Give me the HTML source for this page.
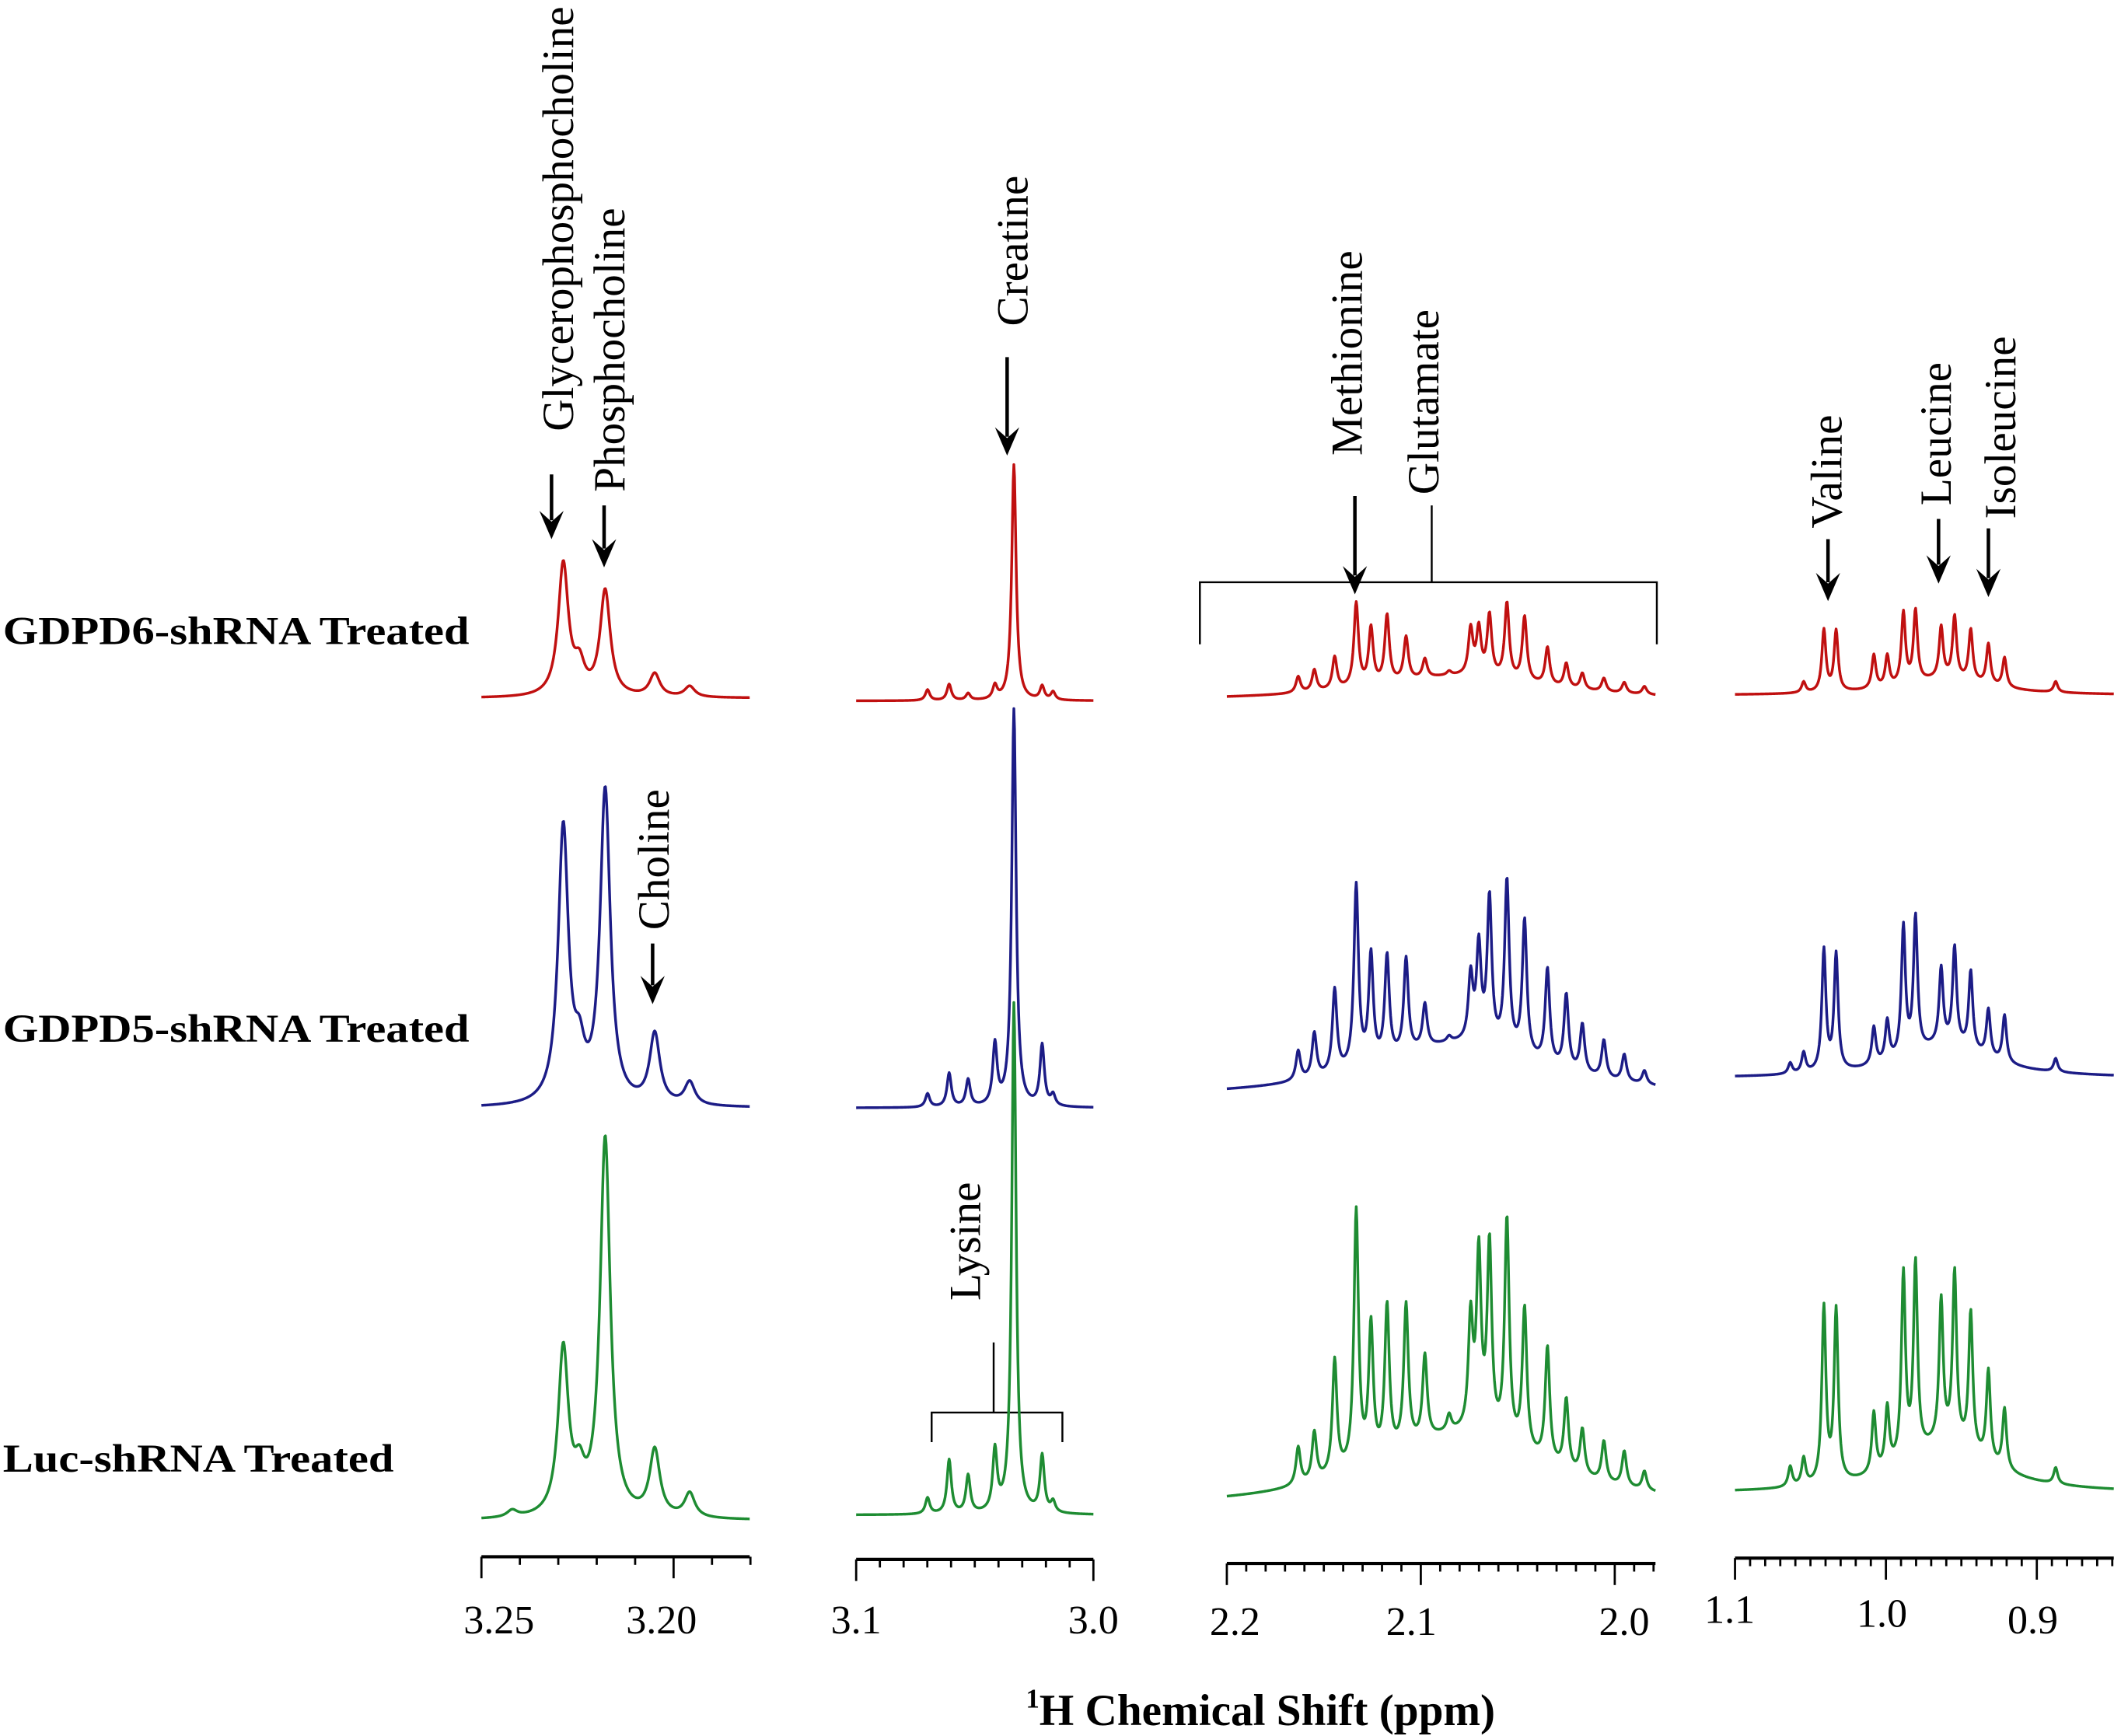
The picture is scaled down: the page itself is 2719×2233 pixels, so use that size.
<!DOCTYPE html>
<html><head><meta charset="utf-8">
<style>
html,body{margin:0;padding:0;background:#fff;}
svg{display:block;}
text{font-family:"Liberation Serif","Times New Roman",serif;fill:#000;}
</style></head>
<body>
<svg id="chart" xmlns="http://www.w3.org/2000/svg" width="2719" height="2233" viewBox="0 0 1568 1288">
  <text x="2" y="478" font-size="29" font-weight="bold" textLength="346" lengthAdjust="spacingAndGlyphs">GDPD6-shRNA Treated</text>
  <text x="2" y="773" font-size="29" font-weight="bold" textLength="346" lengthAdjust="spacingAndGlyphs">GDPD5-shRNA Treated</text>
  <text x="2" y="1092" font-size="29" font-weight="bold" textLength="290" lengthAdjust="spacingAndGlyphs">Luc-shRNA Treated</text>
  <text x="935" y="1280" font-size="33" font-weight="bold" text-anchor="middle"><tspan font-size="20" dy="-13">1</tspan><tspan dy="13">H Chemical Shift (ppm)</tspan></text>
  <g id="annot"></g>
  <g id="plots"></g>
</svg>
<script>
// ---- data ----
const panelRanges = [[3.25,3.1802],[3.1,3.0],[2.2,1.979],[1.1,0.849]];
const panelMajorTicks = [[3.25,3.20],[3.1,3.0],[2.2,2.1,2.0],[1.1,1.0,0.9]];
const panelTickLabels = [["3.25","3.20"],["3.1","3.0"],["2.2","2.1","2.0"],["1.1","1.0","0.9"]];
const seriesNames = ["GDPD6-shRNA","GDPD5-shRNA","Luc-shRNA"];

const p1Pos = [3.242,3.2287,3.2245,3.2178,3.2049,3.1958];
const p1Red = [0,98,20,78,17,8];
const p1Blue = [0,204,30,232,52,17];
const p1Green = [5,123,25,281,49,18];

const p2Pos = [3.0699,3.0608,3.0528,3.0415,3.0335,3.0216,3.017];
const p2Red = [8,12,5,10,175,10,6];
const p2Blue = [10,25,20,45,295,45,8];
const p2Green = [12,40,28,45,379,42,8];

const p3Pos = [2.1632,2.1549,2.1444,2.1333,2.1257,2.1174,2.1076,2.0979,2.0854,2.0743,2.0701,2.0646,2.0556,2.0465,2.0347,2.025,2.0167,2.0056,1.9951,1.9847];
const p3Red = [12,16,24,62,42,50,32,14,3,34,34,45,56,48,28,18,12,10,8,6];
const p3Blue = [22,33,62,135,80,76,70,32,4,48,70,108,125,100,70,55,36,28,20,10];
const p3Green = [28,36,85,190,100,110,105,62,12,82,130,140,165,105,85,52,34,30,26,14];
const p3Hump = [18,40,55];

const p4Pos = [1.0634,1.0545,1.0411,1.033,1.008,0.9991,0.9884,0.9804,0.9634,0.9545,0.9438,0.9321,0.9214,0.8875];
const p4Red = [0,8,46,45,25,23,53,53,38,46,38,30,22,8];
const p4Blue = [8,15,90,86,28,30,96,100,56,72,58,35,35,10];
const p4Green = [15,20,130,127,45,45,138,141,105,126,102,67,45,12];
const p4Hump = [12,24,36];

// ---- layout ----
const panelPx = [[357,556],[635,811],[910,1228],[1287,1568]];
const axisY = [1155,1157,1160,1156];
const baseY = [[518,822,1128],[520,822,1124],[520,815,1120],[516,800,1108]];
const gam = [0.0016,0.0011,0.0014,0.0016];
const colors = ["#c01010","#1c1c86","#1e8c32"];
const labelOffsets = [[[13,1212],[-9,1212]],[[0,1212],[0,1212]],[[6,1213],[-7,1213],[7,1213]],[[-4,1204],[-3,1207],[-3,1212]]];

const NS="http://www.w3.org/2000/svg";
const plots=document.getElementById('plots');
const annot=document.getElementById('annot');
function mk(tag,attrs,parent){const e=document.createElementNS(NS,tag);for(const k in attrs)e.setAttribute(k,attrs[k]);(parent||plots).appendChild(e);return e;}
function xScale(p,ppm){const r=panelRanges[p],px=panelPx[p];return px[0]+(r[0]-ppm)/(r[0]-r[1])*(px[1]-px[0]);}

const panels=[
  {pos:p1Pos,ser:[p1Red,p1Blue,p1Green],hump:null},
  {pos:p2Pos,ser:[p2Red,p2Blue,p2Green],hump:null},
  {pos:p3Pos,ser:[p3Red,p3Blue,p3Green],hump:p3Hump,hc:2.08,hg:0.055},
  {pos:p4Pos,ser:[p4Red,p4Blue,p4Green],hump:p4Hump,hc:0.96,hg:0.035}
];

panels.forEach((pn,p)=>{
  const r=panelRanges[p];
  const g=gam[p];
  pn.ser.forEach((h,s)=>{
    let d="";
    const n=Math.round((panelPx[p][1]-panelPx[p][0])*2);
    for(let i=0;i<=n;i++){
      const ppm=r[0]-(r[0]-r[1])*i/n;
      let v=0;
      for(let k=0;k<pn.pos.length;k++){const dx=ppm-pn.pos[k];v+=h[k]*g*g/(dx*dx+g*g);}
      if(pn.hump){const dx=ppm-pn.hc;v+=pn.hump[s]*pn.hg*pn.hg/(dx*dx+pn.hg*pn.hg);}
      const x=xScale(p,ppm), y=baseY[p][s]-v;
      d+=(i?"L":"M")+x.toFixed(2)+","+y.toFixed(2);
    }
    const path=mk('path',{d:d,fill:'none',stroke:colors[s],'stroke-width':'2','stroke-linejoin':'round'});
    
    
  });
  const ay=axisY[p];
  const axis=mk('line',{x1:panelPx[p][0],x2:panelPx[p][1],y1:ay,y2:ay,stroke:'#000','stroke-width':'2.4'});
  
  
  const hi=Math.round(r[0]*100), lo=Math.round(r[1]*100);
  for(let t=hi;t>=lo;t--){
    const ppm=t/100;
    const major=panelMajorTicks[p].some(m=>Math.abs(m-ppm)<1e-6);
    const x=xScale(p,ppm);
    const tk=mk('line',{x1:x,x2:x,y1:ay,y2:ay+(major?16:6),stroke:'#000','stroke-width':'1.6'});
    
    
  }
  panelMajorTicks[p].forEach((m,i)=>{
    const lb=mk('text',{x:xScale(p,m)+labelOffsets[p][i][0],y:labelOffsets[p][i][1],'font-size':'30','text-anchor':'middle'});
    lb.textContent=panelTickLabels[p][i];
    
    
  });
});

// ---- annotations ----
function arrow(x,y1,y2,name){
  const l=mk('line',{x1:x,x2:x,y1:y1,y2:y2-14,stroke:'#000','stroke-width':'2.6'},annot);
  
  
  const t=mk('polygon',{points:(x-9)+','+(y2-21)+' '+x+','+(y2-13)+' '+(x+9)+','+(y2-21)+' '+x+','+y2},annot);
  
  
}
function vlabel(txt,xc,yb,name){
  const t=mk('text',{transform:'translate('+(xc+11)+','+yb+') rotate(-90)','font-size':'33'},annot);
  t.textContent=txt;
  
  
}
function pl(pts,name){
  const e=mk('polyline',{points:pts,fill:'none',stroke:'#000','stroke-width':'1.4'},annot);
  
  
}
vlabel('Glycerophosphocholine',414,320,'label-glycerophosphocholine');
vlabel('Phosphocholine',452,365,'label-phosphocholine');
arrow(409,352,400,'arrow-glycerophosphocholine');
arrow(448,375,421,'arrow-phosphocholine');
vlabel('Choline',485,690,'label-choline');
arrow(484,700,745,'arrow-choline');
vlabel('Creatine',751,242,'label-creatine');
arrow(747,265,338,'arrow-creatine');
vlabel('Methionine',999,338,'label-methionine');
arrow(1005,368,441,'arrow-methionine');
vlabel('Glutamate',1056,367,'label-glutamate');
pl('1062,375 1062,432','glutamate-line');
pl('890,478 890,432 1229,432 1229,478','methionine-glutamate-bracket');
vlabel('Valine',1355,392,'label-valine');
arrow(1356,400,446,'arrow-valine');
vlabel('Leucine',1436,375,'label-leucine');
arrow(1438,385,433,'arrow-leucine');
vlabel('Isoleucine',1484,385,'label-isoleucine');
arrow(1475,392,443,'arrow-isoleucine');
vlabel('Lysine',716,965,'label-lysine');
pl('737,996 737,1048','lysine-line');
pl('691,1070 691,1048 788,1048 788,1070','lysine-bracket');
</script>
</body></html>
